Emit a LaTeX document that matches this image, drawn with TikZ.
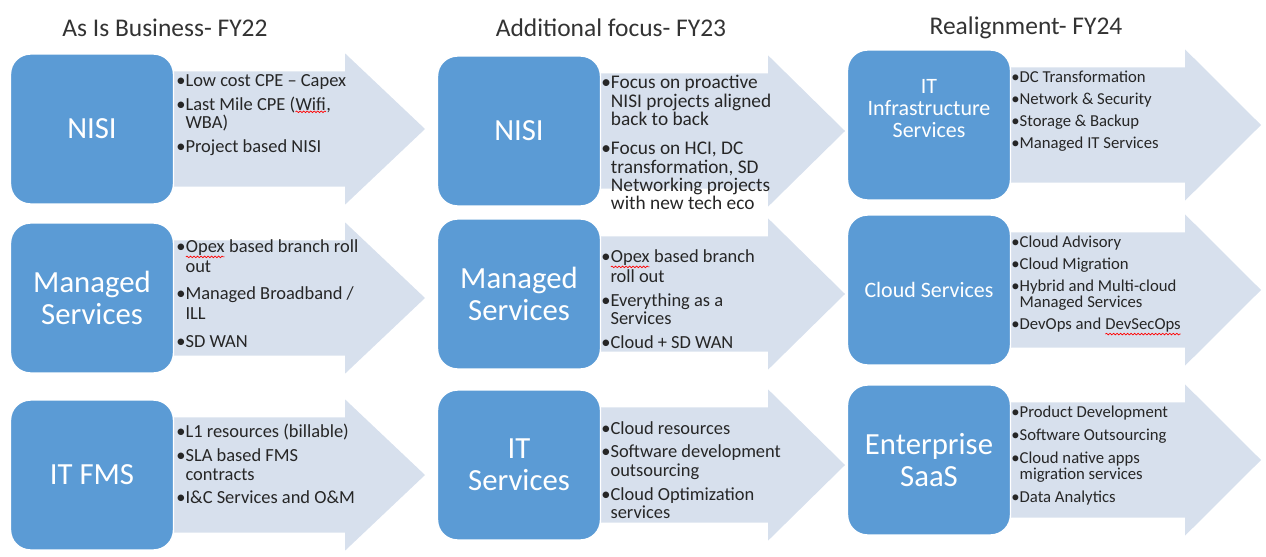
\documentclass[tikz,border=0pt]{standalone}
\usepackage{fontspec}
\setmainfont{Carlito}
\usepackage{tikz}
\usetikzlibrary{calc,backgrounds,decorations.pathmorphing}
\definecolor{Tile}{HTML}{5B9BD5}
\definecolor{Flow}{HTML}{D7E0ED}
\definecolor{Ink}{HTML}{262626}
\definecolor{Head}{HTML}{333333}
% red wavy mark under a word
\newcommand\typo[1]{\tikz[baseline=(w.base)]{\node[inner sep=0pt,outer sep=0pt,anchor=base] (w) at (0pt,0pt) {#1};
  \draw[red,line width=.4pt,decorate,decoration={snake,amplitude=.45pt,segment length=2pt}]
    ([yshift=-1pt]w.south west) -- ([yshift=-1pt]w.south east);}}
\tikzset{
  tile/.style={rounded corners=4mm,fill=Tile,draw=white,line width=.8pt,minimum width=3.26cm,minimum height=3cm,
    text=white,align=center,font=\fontsize{17.5}{18}\selectfont},
  smalltile/.style={tile,font=\fontsize{12.5}{12.5}\selectfont},
  flow/.style={fill=Flow},
  pts/.style={anchor=north west,inner sep=0pt,align=left,text=Ink,font=\fontsize{10.5}{10.5}\selectfont},
  smallpts/.style={pts,font=\fontsize{9.5}{9}\selectfont},
  yearhead/.style={text=Head,font=\fontsize{14.5}{16}\selectfont}
}
\begin{document}
\begin{tikzpicture}[x=0.02cm,y=-0.02cm]
  \useasboundingbox (0,0) rectangle (1266,557);
  \node[yearhead] (h22) at (165,28) {As Is Business- FY22};
  \node[yearhead] (h23) at (611,28) {Additional focus- FY23};
  \node[yearhead] (h24) at (1026,28) {Realignment- FY24};
  % FY22
  \node[tile] (nisiA) at (92,129) {NISI};
  \node[tile] (msA) at (92,298) {Managed\\Services};
  \node[tile] (fmsA) at (92,475) {IT FMS};
  \node[pts] (nisiAt) at (176,74) {\textbullet Low cost CPE -- Capex\\[3pt]
    \textbullet Last Mile CPE (\typo{Wifi},\\ \phantom{\textbullet}WBA)\\[3pt]
    \textbullet Project based NISI};
  \node[pts,font=\fontsize{10.5}{11.5}\selectfont] (msAt) at (176,239) {\textbullet\typo{Opex} based branch roll\\ \phantom{\textbullet}out\\[4pt]
    \textbullet Managed Broadband /\\ \phantom{\textbullet}ILL\\[4pt]
    \textbullet SD WAN};
  \node[pts] (fmsAt) at (176,424) {\textbullet L1 resources (billable)\\[3pt]
    \textbullet SLA based FMS\\ \phantom{\textbullet}contracts\\[3pt]
    \textbullet I\&C Services and O\&M};
  % FY23
  \node[tile] (nisiB) at (519,131) {NISI};
  \node[tile] (msB) at (519,294) {Managed\\Services};
  \node[tile] (itB) at (519,465) {IT\\Services};
  \node[pts,font=\fontsize{11}{10.5}\selectfont] (nisiBt) at (601,75) {\textbullet Focus on proactive\\ \phantom{\textbullet}NISI projects aligned\\ \phantom{\textbullet}back to back\\[6pt]
    \textbullet Focus on HCI, DC\\ \phantom{\textbullet}transformation, SD\\ \phantom{\textbullet}Networking projects\\ \phantom{\textbullet}with new tech eco};
  \node[pts] (msBt) at (601,249) {\textbullet\typo{Opex} based branch\\ \phantom{\textbullet}roll out\\[3pt]
    \textbullet Everything as a\\ \phantom{\textbullet}Services\\[3pt]
    \textbullet Cloud + SD WAN};
  \node[pts] (itBt) at (601,421) {\textbullet Cloud resources\\[3pt]
    \textbullet Software development\\ \phantom{\textbullet}outsourcing\\[3pt]
    \textbullet Cloud Optimization\\ \phantom{\textbullet}services};
  % FY24
  \node[smalltile,text depth=19pt] (infraC) at (929,125) {IT\\Infrastructure\\Services};
  \node[smalltile] (cloudC) at (929,290) {Cloud Services};
  \node[tile] (saasC) at (929,460) {Enterprise\\SaaS};
  \node[smallpts] (infraCt) at (1011,71) {\textbullet DC Transformation\\[3.5pt]
    \textbullet Network \& Security\\[3.5pt]
    \textbullet Storage \& Backup\\[3.5pt]
    \textbullet Managed IT Services};
  \node[smallpts] (cloudCt) at (1011,236) {\textbullet Cloud Advisory\\[3.5pt]
    \textbullet Cloud Migration\\[3.5pt]
    \textbullet Hybrid and Multi-cloud\\ \phantom{\textbullet}Managed Services\\[3.5pt]
    \textbullet DevOps and \typo{DevSecOps}};
  \node[smallpts] (saasCt) at (1011,406) {\textbullet Product Development\\[4pt]
    \textbullet Software Outsourcing\\[4pt]
    \textbullet Cloud native apps\\ \phantom{\textbullet}migration services\\[4pt]
    \textbullet Data Analytics};
  % block arrows behind the tiles
  \begin{scope}[on background layer]
    \foreach \b/\hx/\tx in {nisiA/345/425,msA/345/425,fmsA/345/425,
        nisiB/768/845,msB/768/845,itB/768/845,
        infraC/1185/1261,cloudC/1185/1261,saasC/1185/1261}
      \fill[flow] let \p1=(\b.north), \p2=(\b.south), \p3=(\hx,0), \p4=(\tx,0),
          \n1={0.12*(\y1-\y2)}, \n2={0.5*(\y1+\y2)} in
        (\x1,\y1-\n1) -- (\x3,\y1-\n1) -- (\x3,\y1) -- (\x4,\n2)
        -- (\x3,\y2) -- (\x3,\y2+\n1) -- (\x1,\y2+\n1) -- cycle;
  \end{scope}
\end{tikzpicture}
\end{document}
